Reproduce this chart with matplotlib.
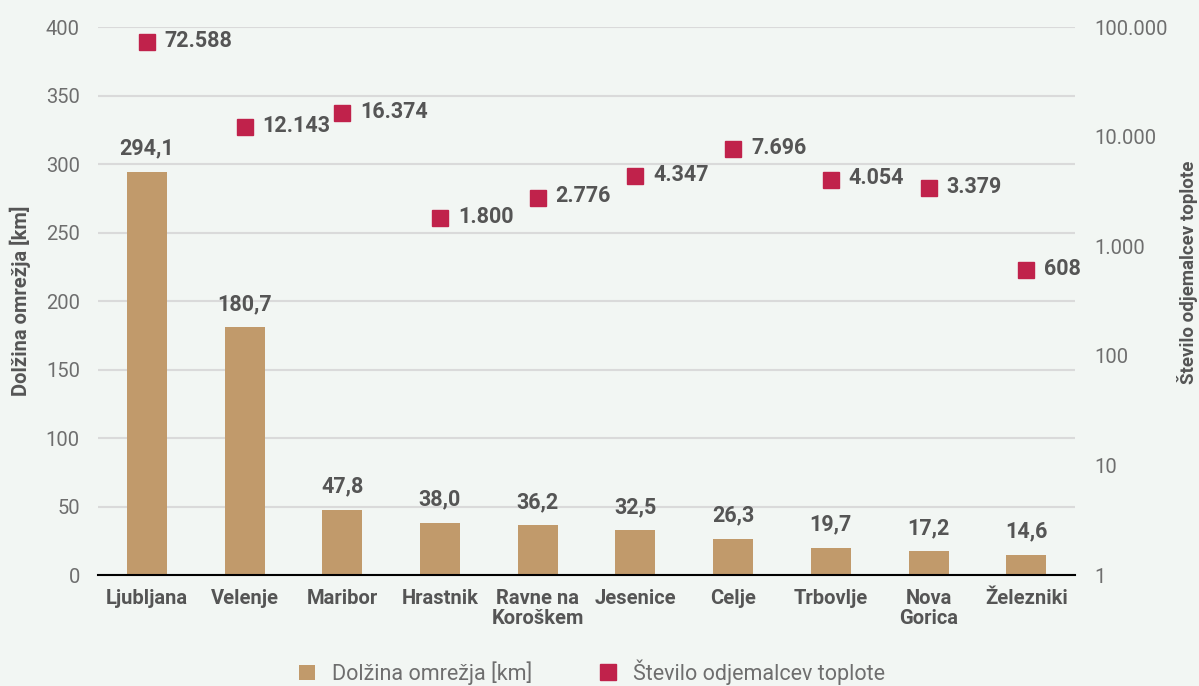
import matplotlib.pyplot as plt
import numpy as np

# data
cities = ['Ljubljana', 'Velenje', 'Maribor', 'Hrastnik', 'Ravne na\nKoroškem',
          'Jesenice', 'Celje', 'Trbovlje', 'Nova\nGorica', 'Železniki']
length_km = [294.1, 180.7, 47.8, 38.0, 36.2, 32.5, 26.3, 19.7, 17.2, 14.6]
customers = [72588, 12143, 16374, 1800, 2776, 4347, 7696, 4054, 3379, 608]

bar_color = '#C19A6B'
marker_color = '#C0224B'
text_color = '#555555'
tick_color = '#6E6E6E'
bg_color = '#F2F6F3'

plt.rcParams['font.family'] = ['Roboto', 'DejaVu Sans']


def fmt_thousands(v):
    return f'{int(v):,}'.replace(',', '.')


fig = plt.figure(figsize=(11.99, 6.86), dpi=100, facecolor=bg_color)
ax = fig.add_axes([0.0817, 0.1618, 0.815, 0.7988])
ax.set_facecolor(bg_color)
x = np.arange(len(cities))

ax.bar(x, length_km, width=0.41, color=bar_color, zorder=2, label='Dolžina omrežja [km]')
for xi, v in zip(x, length_km):
    ax.annotate(f'{v:.1f}'.replace('.', ','), (xi, v), xytext=(0, 9),
                textcoords='offset points', ha='center', va='bottom',
                fontsize=15.5, fontweight='bold', color=text_color)

ax.set_ylim(0, 400)
ax.set_xlim(-0.5, len(cities) - 0.5)
ax.set_yticks(np.arange(0, 401, 50))
ax.yaxis.grid(True, color='#DADADA', linewidth=1.5, zorder=0)
ax.set_axisbelow(True)
for s in ['top', 'left', 'right']:
    ax.spines[s].set_visible(False)
ax.spines['bottom'].set_linewidth(1.5)
ax.tick_params(axis='y', length=0, labelsize=14.5, labelcolor=tick_color, pad=13)
ax.set_xticks(x)
ax.set_xticklabels(cities, fontsize=14.5, fontweight='bold', color=text_color, linespacing=1.1)
ax.tick_params(axis='x', which='major', length=0, pad=10)
ax.set_xticks(np.arange(-0.5, len(cities), 1), minor=True)
ax.tick_params(axis='x', which='minor', length=6, width=1.5, color='black', direction='out')

ax2 = ax.twinx()
ax2.set_yscale('log')
ax2.set_ylim(1, 100000)
ax2.plot(x, customers, linestyle='none', marker='s', markersize=11,
         color=marker_color, zorder=3, label='Število odjemalcev toplote')
for xi, v in zip(x, customers):
    ax2.annotate(fmt_thousands(v), (xi, v), xytext=(13, 1),
                 textcoords='offset points', ha='left', va='center',
                 fontsize=15.5, fontweight='bold', color=text_color)
ax2.set_yticks([1, 10, 100, 1000, 10000, 100000])
ax2.set_yticklabels([fmt_thousands(t) for t in [1, 10, 100, 1000, 10000, 100000]])
ax2.minorticks_off()
ax2.tick_params(axis='y', length=0, labelsize=14.5, labelcolor=tick_color, pad=14)
for s in ['top', 'left', 'right', 'bottom']:
    ax2.spines[s].set_visible(False)

# axis titles
fig.text(20 / 1199, 1 - 301 / 686, 'Dolžina omrežja [km]', rotation=90,
         ha='center', va='center', fontsize=14.5, fontweight='bold', color=text_color)
fig.text(1187 / 1199, 1 - 272 / 686, 'Število odjemalcev toplote', rotation=90,
         ha='center', va='center', fontsize=13.5, fontweight='bold', color=text_color)

h1, l1 = ax.get_legend_handles_labels()
h2, l2 = ax2.get_legend_handles_labels()
fig.legend(h1 + h2, l1 + l2, loc='center', bbox_to_anchor=(0.494, 0.02), ncol=2,
           frameon=False, fontsize=15.5, labelcolor=tick_color, handlelength=0.7,
           handleheight=0.7, columnspacing=3.2, handletextpad=0.8)

fig.savefig('out.png', dpi=100, facecolor=bg_color)
